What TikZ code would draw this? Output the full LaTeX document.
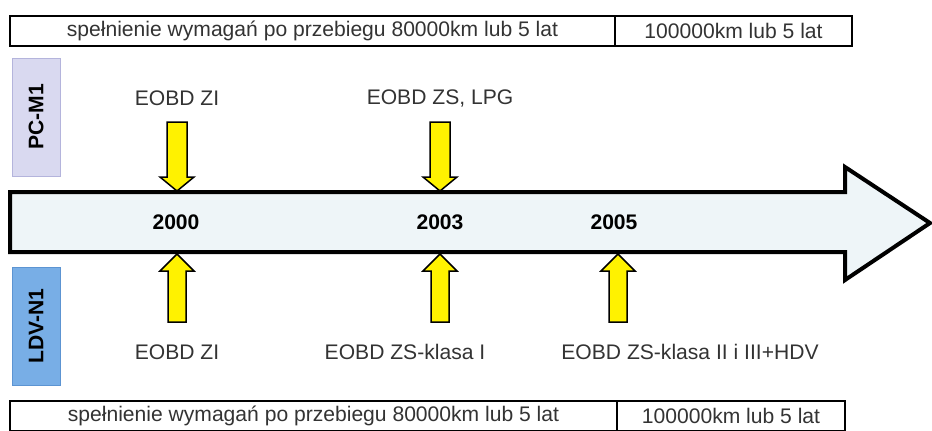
\documentclass[tikz,border=0pt]{standalone}
\usepackage{fontspec}
\setmainfont{Liberation Sans}
\usepackage{xcolor}
\usepackage{tikz}
\usetikzlibrary{positioning}

\definecolor{axisfill}{HTML}{EEF5F8}
\definecolor{pcfill}{HTML}{D9D9F0}
\definecolor{pcdraw}{HTML}{B4B4DC}
\definecolor{ldvfill}{HTML}{78AEE6}
\definecolor{ldvdraw}{HTML}{5C94D2}
\definecolor{labeltext}{HTML}{333333}

\begin{document}
\begin{tikzpicture}[
    x=0.2mm, y=-0.2mm,
    cell/.style={rectangle, draw, line width=0.4mm, outer sep=0pt, minimum height=6mm, inner sep=0pt, font=\fontsize{12}{14}\selectfont, text=labeltext},
    tag/.style={rectangle, rotate=90, minimum width=23.6mm, minimum height=9.6mm, inner sep=0pt, font=\bfseries\fontsize{12}{14}\selectfont},
    label/.style={inner sep=0pt, font=\fontsize{12}{14}\selectfont, text=labeltext},
    year/.style={inner sep=0pt, font=\bfseries\fontsize{12}{14}\selectfont},
    timeline/.style={draw, fill=axisfill, line width=0.8mm, line join=miter},
    yarrow/.style={draw, fill=yellow, line width=0.3mm, line join=miter}
]
\useasboundingbox (0,0) rectangle (932,430);

% requirement bars
\node[cell, minimum width=121mm] (top80) at (312.5,31) {spełnienie wymagań po przebiegu 80000km lub 5 lat};
\node[cell, minimum width=47.4mm, right=0pt of top80] (top100) {100000km lub 5 lat};
\node[cell, minimum width=121.4mm] (bot80) at (313.5,416) {spełnienie wymagań po przebiegu 80000km lub 5 lat};
\node[cell, minimum width=45.6mm, right=0pt of bot80] (bot100) {100000km lub 5 lat};

% vehicle classes
\node[tag, fill=pcfill, draw=pcdraw] (pcm1) at (36,117) {PC-M1};
\node[tag, fill=ldvfill, draw=ldvdraw] (ldvn1) at (36,326) {LDV-N1};

% time axis
\draw[timeline] (10,192) -- (845,192) -- (845,167) -- (930,223) -- (845,280) -- (845,252) -- (10,252) -- cycle;
\node[year] (y2000) at (176,222) {2000};
\node[year] (y2003) at (440,222) {2003};
\node[year] (y2005) at (614,222) {2005};

% passenger cars
\node[label] (pczi) at (177,98) {EOBD ZI};
\node[label] (pczs) at (440,98) {EOBD ZS, LPG};
\foreach \x in {177,440}
    \draw[yarrow] (\x-10,122) -- (\x+10,122) -- (\x+10,177) -- (\x+17,177) -- (\x,191) -- (\x-17,177) -- (\x-10,177) -- cycle;

% light duty vehicles
\node[label] (ldvzi) at (177,352) {EOBD ZI};
\node[label] (ldvzs) at (405,352) {EOBD ZS-klasa I};
\node[label] (ldvhdv) at (690,352) {EOBD ZS-klasa II i III+HDV};
\foreach \x in {177,440,618}
    \draw[yarrow] (\x-9,322) -- (\x+9,322) -- (\x+9,271) -- (\x+17,271) -- (\x,254) -- (\x-17,271) -- (\x-9,271) -- cycle;

\end{tikzpicture}
\end{document}
